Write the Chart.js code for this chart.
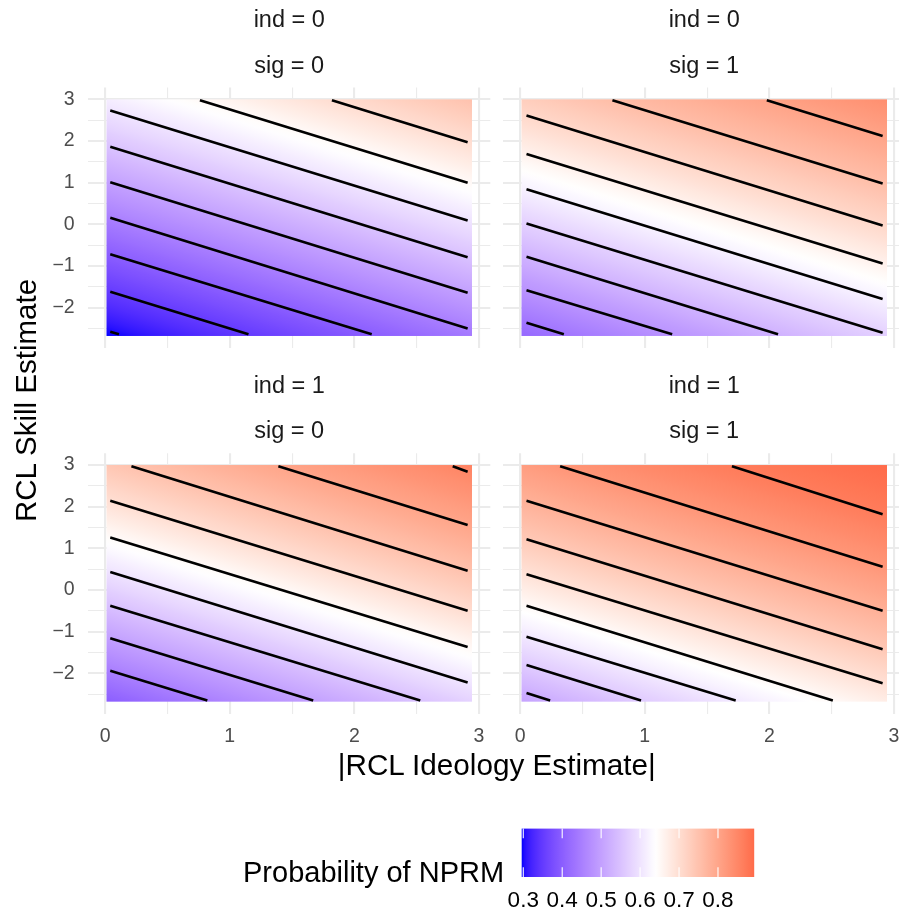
<!DOCTYPE html>
<html><head><meta charset="utf-8">
<script src="https://cdn.jsdelivr.net/npm/chart.js@4.4.1/dist/chart.umd.min.js"></script>
<style>
html,body{margin:0;padding:0;background:#fff;overflow:hidden;width:899px;height:911px;}
#wrap{position:relative;width:899px;height:911px;overflow:hidden;background:#fff;}
canvas{position:absolute;}
svg{position:absolute;left:0;top:0;}
</style></head>
<body><div id="wrap"></div>
<script>
// ---------------- data ----------------
const xTitle = '|RCL Ideology Estimate|';
const yTitle = 'RCL Skill Estimate';
const legendTitle = 'Probability of NPRM';
const stripInd = ['ind = 0', 'ind = 0', 'ind = 1', 'ind = 1'];
const stripSig = ['sig = 0', 'sig = 1', 'sig = 0', 'sig = 1'];
const xTickLabels = [0, 1, 2, 3];
const yTickLabels = [-2, -1, 0, 1, 2, 3];
const legendTicks = [0.3, 0.4, 0.5, 0.6, 0.7, 0.8];

const rasterX = [0.01, 2.945];      // extent of the probability surface
const rasterY = [-2.68, 3.0];
const axisX = [-0.137, 3.092];
const axisY = [-2.964, 3.284];

const fillLimits = [0.296, 0.893];  // colour bar limits
const fillMid = 0.64;               // white point of the diverging scale
const fillLow = '#0000FF', fillMidCol = '#FFFFFF', fillHigh = '#FF0000';

// surface value at lower-left / upper-right corner of each panel
const cornerValues = [[0.296, 0.75], [0.415, 0.838], [0.40, 0.858], [0.503, 0.893]];

// contour levels of each panel
const levels1 = [0.300, 0.350, 0.400, 0.450, 0.500, 0.550, 0.600, 0.650, 0.700];
const levels2 = [0.435, 0.481, 0.527, 0.573, 0.619, 0.665, 0.711, 0.757, 0.803];
const levels3 = [0.450, 0.500, 0.550, 0.600, 0.650, 0.700, 0.750, 0.800, 0.850];
const levels4 = [0.520, 0.564, 0.607, 0.651, 0.694, 0.738, 0.781, 0.825, 0.868];

// contour segments [x1, y1, x2, y2]
const contours1 = [
  [0.04, -2.58, 0.11, -2.64], [0.04, -1.62, 1.15, -2.64], [0.04, -0.72, 2.14, -2.64],
  [0.04, 0.16, 2.91, -2.50], [0.04, 1.01, 2.91, -1.64], [0.04, 1.86, 2.91, -0.79],
  [0.04, 2.73, 2.91, 0.09], [0.76, 2.98, 2.91, 1.00], [1.82, 2.98, 2.91, 1.97]];
const contours2 = [
  [0.05, -2.36, 0.35, -2.64], [0.05, -1.58, 1.22, -2.64], [0.05, -0.78, 2.07, -2.64],
  [0.05, 0.02, 2.91, -2.60], [0.05, 0.84, 2.91, -1.79], [0.05, 1.69, 2.91, -0.94],
  [0.05, 2.61, 2.91, -0.03], [0.74, 2.98, 2.91, 0.98], [1.98, 2.98, 2.91, 2.12]];
const contours3 = [
  [0.04, -1.94, 0.82, -2.65], [0.04, -1.16, 1.67, -2.65], [0.04, -0.38, 2.53, -2.65],
  [0.04, 0.43, 2.91, -2.22], [0.04, 1.26, 2.91, -1.37], [0.04, 2.14, 2.91, -0.50],
  [0.21, 2.97, 2.91, 0.46], [1.39, 2.97, 2.91, 1.56], [2.79, 2.97, 2.91, 2.84]];
const contours4 = [
  [0.05, -2.47, 0.24, -2.65], [0.05, -1.80, 0.97, -2.65], [0.05, -1.12, 1.73, -2.65],
  [0.05, -0.38, 2.51, -2.65], [0.05, 0.38, 2.91, -2.24], [0.05, 1.22, 2.91, -1.42],
  [0.05, 2.14, 2.91, -0.50], [0.32, 2.97, 2.91, 0.56], [1.70, 2.97, 2.91, 1.82]];

const allLevels = [levels1, levels2, levels3, levels4];
const allContours = [contours1, contours2, contours3, contours4];

// ---------------- colour scale (Lab interpolation like ggplot) ----------------
function hexToRgb(h) { return [parseInt(h.slice(1, 3), 16), parseInt(h.slice(3, 5), 16), parseInt(h.slice(5, 7), 16)]; }
function s2l(c) { c /= 255; return c <= 0.04045 ? c / 12.92 : Math.pow((c + 0.055) / 1.055, 2.4); }
function l2s(c) { const v = c <= 0.0031308 ? 12.92 * c : 1.055 * Math.pow(Math.max(c, 0), 1 / 2.4) - 0.055; return Math.round(Math.max(0, Math.min(1, v)) * 255); }
const EPS = 216 / 24389, KAP = 24389 / 27;
function rgbToLab(rgb) {
  const R = s2l(rgb[0]), G = s2l(rgb[1]), B = s2l(rgb[2]);
  const X = (0.4124564 * R + 0.3575761 * G + 0.1804375 * B) / 0.95047;
  const Y = (0.2126729 * R + 0.7151522 * G + 0.0721750 * B);
  const Z = (0.0193339 * R + 0.1191920 * G + 0.9503041 * B) / 1.08883;
  const f = t => t > EPS ? Math.cbrt(t) : (KAP * t + 16) / 116;
  const fx = f(X), fy = f(Y), fz = f(Z);
  return [116 * fy - 16, 500 * (fx - fy), 200 * (fy - fz)];
}
function labToRgb(lab) {
  const fy = (lab[0] + 16) / 116, fx = fy + lab[1] / 500, fz = fy - lab[2] / 200;
  const inv = t => { const t3 = t * t * t; return t3 > EPS ? t3 : (116 * t - 16) / KAP; };
  const X = inv(fx) * 0.95047, Y = inv(fy), Z = inv(fz) * 1.08883;
  const R = 3.2404542 * X - 1.5371385 * Y - 0.4985314 * Z;
  const G = -0.9692660 * X + 1.8760108 * Y + 0.0415560 * Z;
  const B = 0.0556434 * X - 0.2040259 * Y + 1.0572252 * Z;
  return [l2s(R), l2s(G), l2s(B)];
}
const labLow = rgbToLab(hexToRgb(fillLow)), labMid = rgbToLab(hexToRgb(fillMidCol)), labHigh = rgbToLab(hexToRgb(fillHigh));
function fillColor(v) {
  const half = Math.max(fillMid - fillLimits[0], fillLimits[1] - fillMid);
  let t = (v - fillMid) / (2 * half) + 0.5;
  t = Math.max(0, Math.min(1, t));
  let a, b, f;
  if (t < 0.5) { a = labLow; b = labMid; f = t / 0.5; } else { a = labMid; b = labHigh; f = (t - 0.5) / 0.5; }
  const c = labToRgb([a[0] + (b[0] - a[0]) * f, a[1] + (b[1] - a[1]) * f, a[2] + (b[2] - a[2]) * f]);
  return 'rgb(' + c[0] + ',' + c[1] + ',' + c[2] + ')';
}

// ---------------- layout (pixels) ----------------
const FONT = "'Liberation Sans', Arial, Helvetica, sans-serif";
Chart.defaults.font.family = FONT;
const colL = { l: 88.2, r: 490.3, cx0: 0, cx1: 500 };
const colR = { l: 503.2, r: 905.3, cx0: 496, cx1: 925 };
const rowT = { t: 87.5, b: 347.8, cy0: 70, cy1: 365 };
const rowB = { t: 453.2, b: 713.5, cy0: 436, cy1: 770 };
const panels = [
  { col: colL, row: rowT, showX: false, showY: true },
  { col: colR, row: rowT, showX: false, showY: false },
  { col: colL, row: rowB, showX: true, showY: true },
  { col: colR, row: rowB, showX: true, showY: false }];

const wrap = document.getElementById('wrap');

function makeRasterPlugin(p) {
  return {
    id: 'raster' + p,
    beforeDatasetsDraw(chart) {
      const xs = chart.scales.x, ys = chart.scales.y, ctx = chart.ctx;
      const X = v => xs.getPixelForValue(v), Y = v => ys.getPixelForValue(v);
      const segs = allContours[p], lv = allLevels[p];
      let dx = 0, dy = 0;
      segs.forEach(s => { const ax = X(s[2]) - X(s[0]), ay = Y(s[3]) - Y(s[1]); const L = Math.hypot(ax, ay); dx += ax / L; dy += ay / L; });
      const L = Math.hypot(dx, dy); dx /= L; dy /= L;
      let nx = -dy, ny = dx;
      const c0 = [X(rasterX[0]), Y(rasterY[0])], c1 = [X(rasterX[1]), Y(rasterY[1])];
      if ((c1[0] - c0[0]) * nx + (c1[1] - c0[1]) * ny < 0) { nx = -nx; ny = -ny; }
      const proj = (px, py) => px * nx + py * ny;
      const s0 = proj(c0[0], c0[1]), s1 = proj(c1[0], c1[1]);
      const stops = [[s0, cornerValues[p][0]]];
      segs.forEach((s, i) => {
        const mx = (X(s[0]) + X(s[2])) / 2, my = (Y(s[1]) + Y(s[3])) / 2;
        stops.push([proj(mx, my), lv[i]]);
      });
      stops.push([s1, cornerValues[p][1]]);
      stops.sort((a, b) => a[0] - b[0]);
      const g = ctx.createLinearGradient(c0[0], c0[1], c0[0] + nx * (s1 - s0), c0[1] + ny * (s1 - s0));
      const clamp = o => Math.max(0, Math.min(1, o));
      for (let i = 0; i < stops.length - 1; i++) {
        const sa = stops[i][0], va = stops[i][1], sb = stops[i + 1][0], vb = stops[i + 1][1];
        for (let k = 0; k < 8; k++) {
          const f = k / 8;
          g.addColorStop(clamp((sa + f * (sb - sa) - s0) / (s1 - s0)), fillColor(va + f * (vb - va)));
        }
      }
      g.addColorStop(1, fillColor(stops[stops.length - 1][1]));
      ctx.save();
      ctx.fillStyle = g;
      ctx.fillRect(c0[0], c1[1], c1[0] - c0[0], c0[1] - c1[1]);
      ctx.restore();
    }
  };
}

panels.forEach((pn, p) => {
  const cv = document.createElement('canvas');
  const w = pn.col.cx1 - pn.col.cx0, h = pn.row.cy1 - pn.row.cy0;
  cv.width = w; cv.height = h;
  cv.style.left = pn.col.cx0 + 'px'; cv.style.top = pn.row.cy0 + 'px';
  cv.style.width = w + 'px'; cv.style.height = h + 'px';
  wrap.appendChild(cv);
  const yW = pn.col.l - pn.col.cx0, xH = pn.row.cy1 - pn.row.b;
  const zeroPad = s => { s.paddingTop = 0; s.paddingBottom = 0; s.paddingLeft = 0; s.paddingRight = 0; };
  const gridW = c => (Math.abs(c.tick.value - Math.round(c.tick.value)) < 1e-9 ? 2.1 : 1.1);
  new Chart(cv, {
    type: 'scatter',
    data: {
      datasets: allContours[p].map((s, i) => ({
        label: 'level ' + allLevels[p][i].toFixed(3),
        data: [{ x: s[0], y: s[1] }, { x: s[2], y: s[3] }],
        showLine: true, borderColor: '#000000', borderWidth: 2.6,
        pointRadius: 0, pointHoverRadius: 0, fill: false, borderCapStyle: 'butt'
      }))
    },
    options: {
      responsive: false, animation: false, events: [],
      layout: { padding: { left: 0, top: pn.row.t - pn.row.cy0, right: pn.col.cx1 - pn.col.r, bottom: 0 } },
      plugins: { legend: { display: false }, tooltip: { enabled: false } },
      scales: {
        x: {
          type: 'linear', min: axisX[0], max: axisX[1],
          border: { display: false },
          grid: { color: '#EBEBEB', lineWidth: gridW, drawTicks: false },
          ticks: {
            display: pn.showX, stepSize: 0.5, includeBounds: false, autoSkip: false, maxRotation: 0,
            padding: 11.5, color: '#4D4D4D', font: { size: 19.5, family: FONT },
            callback: v => (xTickLabels.indexOf(v) >= 0 ? String(v) : '')
          },
          afterFit: s => { s.height = xH; zeroPad(s); }
        },
        y: {
          type: 'linear', min: axisY[0], max: axisY[1],
          border: { display: false },
          grid: { color: '#EBEBEB', lineWidth: gridW, drawTicks: false },
          ticks: {
            display: pn.showY, stepSize: 0.5, includeBounds: false, autoSkip: false,
            padding: 13.5, color: '#4D4D4D', font: { size: 19.5, family: FONT },
            callback: v => (yTickLabels.indexOf(v) >= 0 ? (v < 0 ? '\u2212' + Math.abs(v) : String(v)) : '')
          },
          afterFit: s => { s.width = yW; zeroPad(s); }
        }
      }
    },
    plugins: [makeRasterPlugin(p)]
  });
});

// ---------------- colour bar legend ----------------
(function () {
  const area = { l: 521.7, r: 754.2, t: 828.6, b: 877 };
  const cbox = { x0: 500, x1: 780, y0: 815, y1: 925 };
  const cv = document.createElement('canvas');
  const w = cbox.x1 - cbox.x0, h = cbox.y1 - cbox.y0;
  cv.width = w; cv.height = h;
  cv.style.left = cbox.x0 + 'px'; cv.style.top = cbox.y0 + 'px';
  cv.style.width = w + 'px'; cv.style.height = h + 'px';
  wrap.appendChild(cv);
  const barPlugin = {
    id: 'colourbar',
    beforeDatasetsDraw(chart) {
      const xs = chart.scales.x, a = chart.chartArea, ctx = chart.ctx;
      const g = ctx.createLinearGradient(a.left, 0, a.right, 0);
      const N = 90;
      for (let k = 0; k <= N; k++) {
        const v = fillLimits[0] + (fillLimits[1] - fillLimits[0]) * k / N;
        g.addColorStop(Math.max(0, Math.min(1, (xs.getPixelForValue(v) - a.left) / (a.right - a.left))), fillColor(v));
      }
      ctx.save();
      ctx.fillStyle = g;
      ctx.fillRect(a.left, a.top, a.right - a.left, a.bottom - a.top);
      ctx.strokeStyle = '#FFFFFF'; ctx.lineWidth = 1.1;
      const tl = (a.bottom - a.top) / 5;
      legendTicks.forEach(v => {
        const x = xs.getPixelForValue(v);
        ctx.beginPath();
        ctx.moveTo(x, a.top); ctx.lineTo(x, a.top + tl);
        ctx.moveTo(x, a.bottom - tl); ctx.lineTo(x, a.bottom);
        ctx.stroke();
      });
      ctx.restore();
    }
  };
  new Chart(cv, {
    type: 'scatter',
    data: { datasets: [{ label: legendTitle, data: [] }] },
    options: {
      responsive: false, animation: false, events: [],
      layout: { padding: { left: area.l - cbox.x0, right: cbox.x1 - area.r, top: area.t - cbox.y0, bottom: 0 } },
      plugins: { legend: { display: false }, tooltip: { enabled: false } },
      scales: {
        x: {
          type: 'linear', min: fillLimits[0], max: fillLimits[1],
          border: { display: false }, grid: { display: false, drawTicks: false },
          ticks: {
            stepSize: 0.1, includeBounds: false, autoSkip: false, maxRotation: 0,
            padding: 10.5, color: '#000000', font: { size: 22.5, family: FONT },
            callback: v => (legendTicks.some(t => Math.abs(t - v) < 1e-6) ? Number(v).toFixed(1) : '')
          },
          afterFit: s => { s.height = cbox.y1 - area.b; s.paddingLeft = 0; s.paddingRight = 0; s.paddingTop = 0; s.paddingBottom = 0; }
        },
        y: { display: false, min: 0, max: 1 }
      }
    },
    plugins: [barPlugin]
  });
})();

// ---------------- text (strips, titles) ----------------
(function () {
  const NS = 'http://www.w3.org/2000/svg';
  const svg = document.createElementNS(NS, 'svg');
  svg.setAttribute('width', 899); svg.setAttribute('height', 911);
  wrap.appendChild(svg);
  function txt(s, x, y, size, color, anchor, rot) {
    const t = document.createElementNS(NS, 'text');
    t.textContent = s;
    t.setAttribute('font-family', FONT);
    t.setAttribute('font-size', size);
    t.setAttribute('fill', color);
    t.setAttribute('text-anchor', anchor);
    if (rot) { t.setAttribute('transform', 'translate(' + x + ',' + y + ') rotate(' + rot + ')'); t.setAttribute('x', 0); t.setAttribute('y', 0); }
    else { t.setAttribute('x', x); t.setAttribute('y', y); }
    svg.appendChild(t);
  }
  panels.forEach((pn, p) => {
    const cx = (pn.col.l + pn.col.r) / 2;
    const off = pn.row === rowT ? 0 : rowB.t - rowT.t;
    txt(stripInd[p], cx, 27.3 + off, 23.5, '#1A1A1A', 'middle');
    txt(stripSig[p], cx, 72.7 + off, 23.5, '#1A1A1A', 'middle');
  });
  txt(xTitle, (colL.l + colR.r) / 2, 775, 29.7, '#000000', 'middle');
  txt(yTitle, 36, (rowT.t + rowB.b) / 2, 29.5, '#000000', 'middle', -90);
  txt(legendTitle, 243, 882.3, 29, '#000000', 'start');
})();
</script>
</body></html>
